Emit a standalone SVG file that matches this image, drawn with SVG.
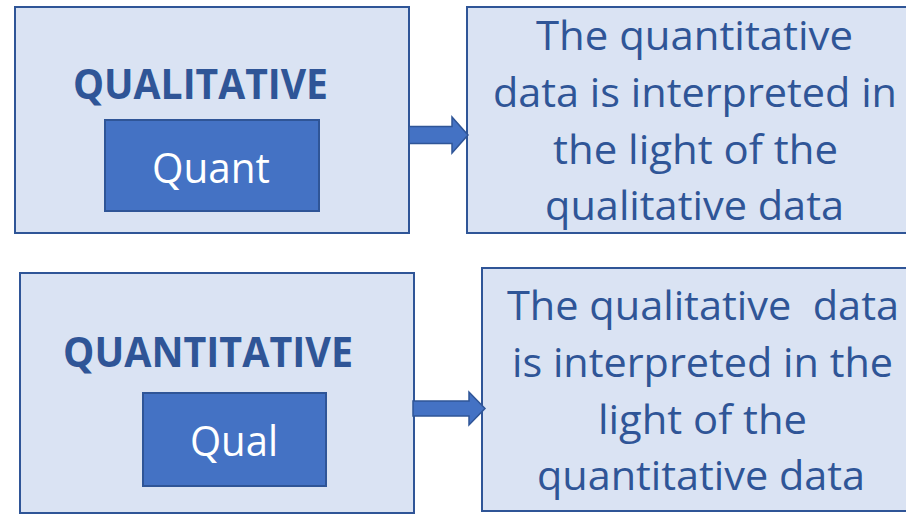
<svg xmlns="http://www.w3.org/2000/svg" width="906" height="515" viewBox="0 0 906 515">
  <style>
    .box { fill: #DAE3F3; stroke: #2F5597; stroke-width: 2; }
    .inner { fill: #4472C4; stroke: #2F5597; stroke-width: 2; }
    .arrow { fill: #4472C4; stroke: #2F5597; stroke-width: 1.5; }
    .head { font-family: "Open Sans", "Liberation Sans", sans-serif; font-weight: bold; font-size: 42px; fill: #2F5597; }
    .tag { font-family: "Open Sans", "Liberation Sans", sans-serif; font-size: 42px; fill: #FFFFFF; }
    .body { font-family: "Open Sans", "Liberation Sans", sans-serif; font-size: 40px; fill: #2F5597; }
  </style>
  <rect width="906" height="515" fill="#FFFFFF"/>

  <!-- top row -->
  <g id="qualitative">
    <rect class="box" x="15" y="7" width="394" height="226"/>
    <text class="head" x="73" y="99" textLength="255" lengthAdjust="spacingAndGlyphs">QUALITATIVE</text>
  </g>
  <g id="quant">
    <rect class="inner" x="105" y="120" width="214" height="91"/>
    <text class="tag" x="152" y="183" textLength="118" lengthAdjust="spacingAndGlyphs">Quant</text>
  </g>
  <g id="quant-interpretation">
    <rect class="box" x="467" y="7" width="441" height="226"/>
    <text class="body" x="536" y="50" textLength="317" lengthAdjust="spacingAndGlyphs">The quantitative</text>
    <text class="body" x="493" y="107" textLength="404" lengthAdjust="spacingAndGlyphs">data is interpreted in</text>
    <text class="body" x="553" y="164" textLength="285" lengthAdjust="spacingAndGlyphs">the light of the</text>
    <text class="body" x="545" y="220" textLength="299" lengthAdjust="spacingAndGlyphs">qualitative data</text>
  </g>

  <!-- bottom row -->
  <g id="quantitative">
    <rect class="box" x="20" y="273" width="394" height="240"/>
    <text class="head" x="63" y="367" textLength="290" lengthAdjust="spacingAndGlyphs">QUANTITATIVE</text>
  </g>
  <g id="qual">
    <rect class="inner" x="143" y="393" width="183" height="93"/>
    <text class="tag" x="190" y="456" textLength="88" lengthAdjust="spacingAndGlyphs">Qual</text>
  </g>
  <g id="qual-interpretation">
    <rect class="box" x="482" y="268" width="426" height="243"/>
    <text class="body" x="507" y="320" textLength="392" lengthAdjust="spacingAndGlyphs" xml:space="preserve">The qualitative  data</text>
    <text class="body" x="512" y="377" textLength="381" lengthAdjust="spacingAndGlyphs">is interpreted in the</text>
    <text class="body" x="598" y="434" textLength="209" lengthAdjust="spacingAndGlyphs">light of the</text>
    <text class="body" x="537" y="490" textLength="328" lengthAdjust="spacingAndGlyphs">quantitative data</text>
  </g>

  <!-- block arrows -->
  <g id="connectors">
    <path class="arrow" d="M409,126.5 H452 V117 L468,135 L452,153 V143.5 H409 Z"/>
    <path class="arrow" d="M413,401 H469 V392 L485,408.5 L469,425 V416 H413 Z"/>
  </g>
</svg>
